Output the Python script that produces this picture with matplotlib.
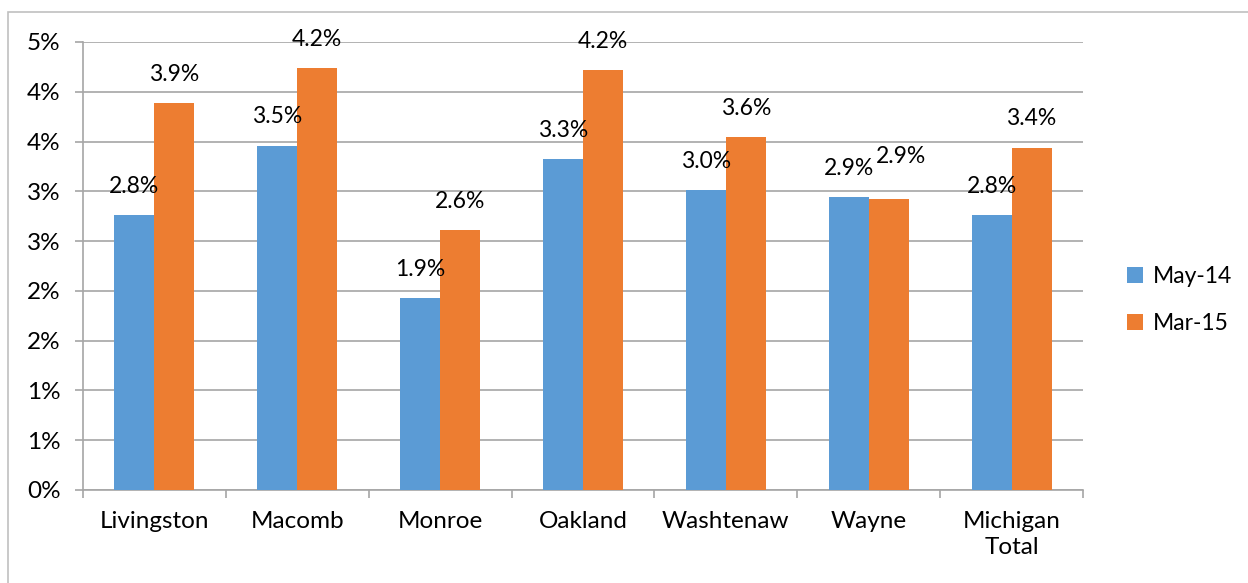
import matplotlib
matplotlib.use("Agg")
import matplotlib.pyplot as plt
import numpy as np
from matplotlib.patches import Rectangle
from matplotlib.ticker import FuncFormatter, MultipleLocator

categories = ["Livingston", "Macomb", "Monroe", "Oakland", "Washtenaw", "Wayne", "Michigan\nTotal"]
may14 = [2.76, 3.46, 1.93, 3.32, 3.01, 2.94, 2.76]
mar15 = [3.89, 4.24, 2.61, 4.22, 3.55, 2.92, 3.44]
may14_labels = ["2.8%", "3.5%", "1.9%", "3.3%", "3.0%", "2.9%", "2.8%"]
mar15_labels = ["3.9%", "4.2%", "2.6%", "4.2%", "3.6%", "2.9%", "3.4%"]
series_names = ["May-14", "Mar-15"]

plt.rcParams['font.family'] = ['Lato', 'DejaVu Sans']
FS = 17.5
FS_LAB = 16.5

fig = plt.figure(figsize=(12.48, 5.83), dpi=100)
ax = fig.add_axes([83/1248, 1-490/583, 1000/1248, 448/583])

border = Rectangle((8/1248, -0.2), 1.5, 1 - 12/583 + 0.2, transform=fig.transFigure,
                   fill=False, edgecolor='#c0c0c0', linewidth=1.2, zorder=-10)
fig.patches.append(border)

x = np.arange(len(categories))
w = 0.28
blue = '#5B9BD5'
orange = '#ED7D31'
b1 = ax.bar(x - w/2, may14, w, color=blue, label=series_names[0], zorder=3)
b2 = ax.bar(x + w/2, mar15, w, color=orange, label=series_names[1], zorder=3)

# label nudges (series index, category index) -> extra offset in points, to avoid collision
nudges = {(1, 5): (9, 10)}

for si, (bars, labs) in enumerate(((b1, may14_labels), (b2, mar15_labels))):
    for ci, (rect, lab) in enumerate(zip(bars, labs)):
        dx, dy = nudges.get((si, ci), (0, 0))
        ax.annotate(lab, (rect.get_x() + rect.get_width()/2, rect.get_height()),
                    xytext=(dx, 13 + dy), textcoords='offset points', ha='center', va='bottom',
                    fontsize=FS_LAB, color='black', zorder=5)

ax.set_xlim(-0.5, len(categories) - 0.5)
ax.set_ylim(0, 4.5)
ax.yaxis.set_major_locator(MultipleLocator(0.5))
ax.yaxis.set_major_formatter(FuncFormatter(lambda v, p: f"{int(np.floor(v + 0.5 + 1e-9))}%"))
ax.grid(axis='y', color='#a6a6a6', linewidth=1.2, zorder=0)
ax.set_axisbelow(True)

ax.set_xticks(np.arange(len(categories) + 1) - 0.5, minor=False)
ax.set_xticklabels([])
ax.set_xticks(x, minor=True)
ax.set_xticklabels(categories, minor=True, fontsize=FS, linespacing=1.3)
ax.tick_params(axis='x', which='minor', length=0, pad=15)
ax.tick_params(axis='x', which='major', length=6, color='#a6a6a6', width=1.2)
ax.tick_params(axis='y', length=6, color='#a6a6a6', width=1.2, labelsize=FS, pad=10)

for s in ['top', 'right']:
    ax.spines[s].set_visible(False)
for s in ['left', 'bottom']:
    ax.spines[s].set_color('#a6a6a6')
    ax.spines[s].set_linewidth(1.2)

leg = fig.legend(handles=[b1, b2], labels=series_names, loc='center left',
                 bbox_to_anchor=(1106/1248, 1-300/583), frameon=False, fontsize=FS_LAB,
                 handlelength=0.7, handleheight=0.7, handletextpad=0.45, labelspacing=1.15)

fig.savefig("out.png", dpi=100)
